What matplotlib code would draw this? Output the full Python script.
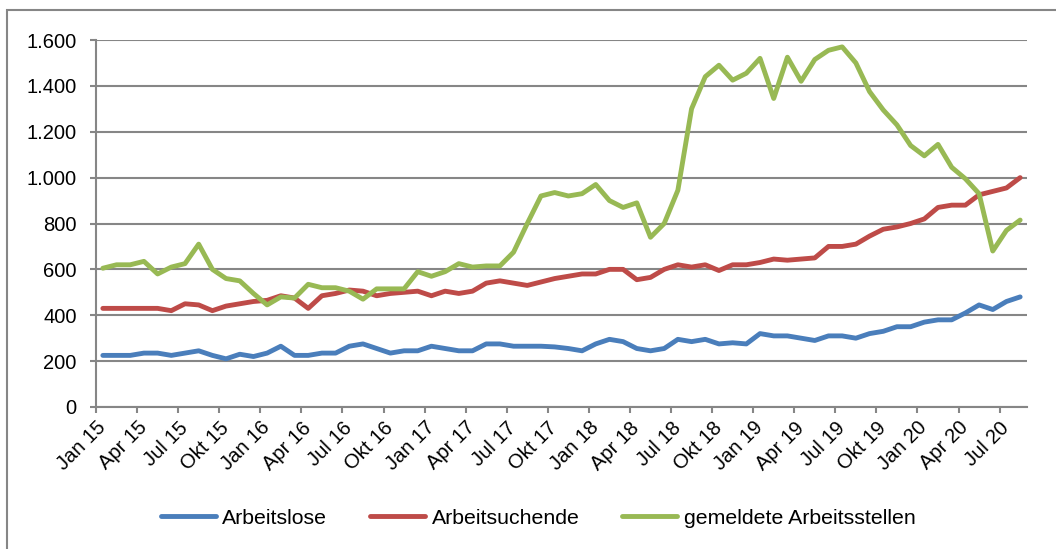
import numpy as np
import matplotlib
matplotlib.use("Agg")
import matplotlib.pyplot as plt
from matplotlib.patches import Rectangle

plt.rcParams['font.family'] = ['Liberation Sans', 'DejaVu Sans']

# monthly values Jan 15 .. Aug 20
arbeitslose = [225, 225, 225, 235, 235, 225, 235, 245, 225, 210, 230, 220, 235, 265, 225, 225, 235,
               235, 265, 275, 255, 235, 245, 245, 265, 255, 245, 245, 275, 275, 265, 265, 265, 262,
               255, 245, 275, 295, 285, 255, 245, 255, 295, 285, 295, 275, 280, 275, 320, 310, 310,
               300, 290, 310, 310, 300, 320, 330, 350, 350, 370, 380, 380, 410, 445, 425, 460, 480]
arbeitsuchende = [430, 430, 430, 430, 430, 420, 450, 445, 420, 440, 450, 460, 465, 485, 475, 430, 485,
                  495, 510, 505, 485, 495, 500, 505, 485, 505, 495, 505, 540, 550, 540, 530, 545, 560,
                  570, 580, 580, 600, 600, 555, 565, 600, 620, 610, 620, 595, 620, 620, 630, 645, 640,
                  645, 650, 700, 700, 710, 745, 775, 785, 800, 820, 870, 880, 880, 925, 940, 955, 1000]
arbeitsstellen = [605, 620, 620, 635, 580, 610, 625, 710, 600, 560, 550, 495, 445, 480, 475, 535, 520,
                  520, 505, 470, 515, 515, 515, 590, 570, 590, 625, 610, 615, 615, 675, 800, 920, 935,
                  920, 930, 970, 900, 870, 890, 740, 800, 945, 1300, 1440, 1490, 1425, 1455, 1520, 1345, 1525,
                  1420, 1515, 1555, 1570, 1500, 1375, 1295, 1230, 1140, 1095, 1145, 1045, 995, 930, 680, 770, 815]

tick_labels = ["Jan 15", "Apr 15", "Jul 15", "Okt 15", "Jan 16", "Apr 16", "Jul 16", "Okt 16",
               "Jan 17", "Apr 17", "Jul 17", "Okt 17", "Jan 18", "Apr 18", "Jul 18", "Okt 18",
               "Jan 19", "Apr 19", "Jul 19", "Okt 19", "Jan 20", "Apr 20", "Jul 20"]

x = np.arange(len(arbeitslose))

fig = plt.figure(figsize=(10.56, 5.49), dpi=100)
ax = fig.add_axes([96/1056, 142/549, 931/1056, 367/549])

ax.plot(x, arbeitslose, color="#4A7EBB", lw=3.5, label="Arbeitslose", solid_capstyle="round")
ax.plot(x, arbeitsuchende, color="#BE4B48", lw=3.5, label="Arbeitsuchende", solid_capstyle="round")
ax.plot(x, arbeitsstellen, color="#98B954", lw=3.5, label="gemeldete Arbeitsstellen", solid_capstyle="round")

ax.set_xlim(-0.5, len(x) - 0.5)
ax.set_ylim(0, 1600)
ax.set_yticks(np.arange(0, 1601, 200))
ax.set_yticklabels([f"{v:,}".replace(",", ".") for v in range(0, 1601, 200)], fontsize=14.5)
ax.set_xticks(np.arange(0, len(x), 3) - 0.5)
ax.set_xticklabels(tick_labels, rotation=45, ha="right", rotation_mode="anchor", fontsize=14.5)

ax.grid(axis="y", color="#868686", lw=1.5)
ax.set_axisbelow(True)
for s in ["top", "right"]:
    ax.spines[s].set_visible(False)
for s in ["left", "bottom"]:
    ax.spines[s].set_color("#868686")
    ax.spines[s].set_linewidth(1.5)
ax.tick_params(axis="both", color="#868686", width=1.5, length=4, direction="out")
ax.tick_params(axis="y", pad=10)
ax.tick_params(axis="x", pad=4)

fig.legend(loc="center", bbox_to_anchor=(0.5095, 1 - 518/549), ncol=3, frameon=False,
           fontsize=15.3, handlelength=2.6, columnspacing=2.0, handletextpad=0.3)

fig.patches.append(Rectangle((7/1056, -0.1), 1.2, (549 - 10)/549 + 0.1, transform=fig.transFigure,
                             fill=False, edgecolor="#868686", lw=1.5))

plt.savefig("out.png")
